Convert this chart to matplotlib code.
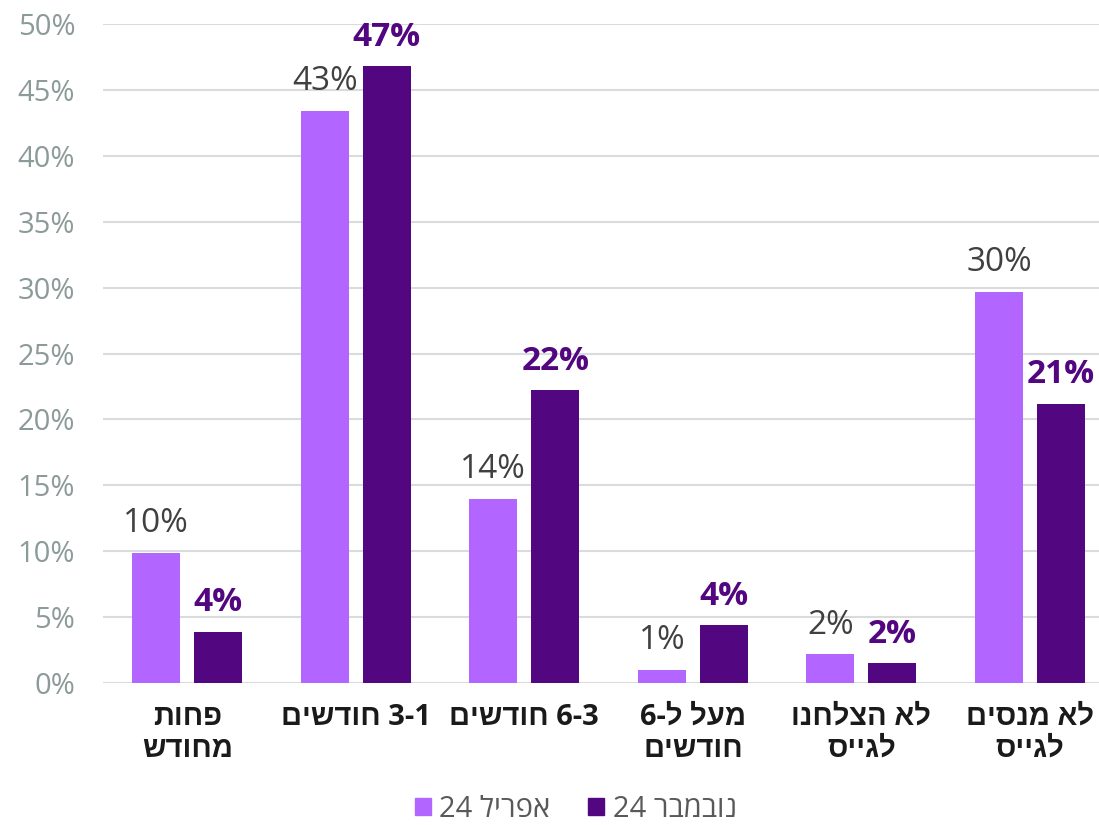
import re
import numpy as np
import matplotlib
matplotlib.use("Agg")
import matplotlib.pyplot as plt
from matplotlib.patches import Patch

plt.rcParams['font.family'] = ['Open Sans', 'Liberation Sans', 'DejaVu Sans']


def rtl(s):
    # matplotlib has no bidi: reverse the text, keep digit runs in order
    r = s[::-1]
    return re.sub(r'\d+', lambda m: m.group(0)[::-1], r)


# Data -------------------------------------------------------------------
categories = [
    "פחות\nמחודש",
    "1-3 חודשים",
    "3-6 חודשים",
    "מעל ל-6\nחודשים",
    "לא הצלחנו\nלגייס",
    "לא מנסים\nלגייס",
]
series_names = ["אפריל 24", "נובמבר 24"]
april = [0.099, 0.434, 0.14, 0.010, 0.022, 0.297]
november = [0.039, 0.468, 0.222, 0.044, 0.015, 0.212]

c_light = "#B366FF"
c_dark = "#52067F"

# Plot -------------------------------------------------------------------
fig = plt.figure(figsize=(10.99, 8.25), dpi=100)
ax = fig.add_axes([0.0937, 0.172, 0.9063, 0.799])

x = np.arange(len(categories))
w = 0.285
off = 0.184
b1 = ax.bar(x - off, april, w, color=c_light, zorder=3)
b2 = ax.bar(x + off, november, w, color=c_dark, zorder=3)

for rect, v in zip(b1, april):
    ax.annotate(f"{v*100:.0f}%", (rect.get_x() + rect.get_width() / 2, v),
                xytext=(0, 9), textcoords="offset points", ha="center", va="bottom",
                fontsize=24, color="#404040")
for rect, v in zip(b2, november):
    ax.annotate(f"{v*100:.0f}%", (rect.get_x() + rect.get_width() / 2, v),
                xytext=(0, 9), textcoords="offset points", ha="center", va="bottom",
                fontsize=24, color=c_dark, fontweight="bold")

ax.set_ylim(0, 0.5)
ax.set_xlim(-0.5, 5.41)
yt = np.arange(0, 0.51, 0.05)
ax.set_yticks(yt)
ax.set_yticklabels([f"{int(round(t*100))}%" for t in yt], fontsize=21, color="#8C9A99")
ax.yaxis.grid(True, color="#D9DCDC", linewidth=1.5, zorder=0)
ax.tick_params(axis="both", length=0)
ax.tick_params(axis="y", pad=20)

ax.set_xticks(x)
ax.set_xticklabels(["\n".join(rtl(p) for p in c.split("\n")) for c in categories],
                   fontsize=21, fontweight="bold", color="#1A1A1A", linespacing=1.15)
ax.tick_params(axis="x", pad=14)

for s in ax.spines.values():
    s.set_visible(False)

handles = [Patch(color=c_light), Patch(color=c_dark)]
fig.legend(handles, [rtl(n) for n in series_names], loc="center",
           bbox_to_anchor=(0.524, 0.019), ncol=2, frameon=False, fontsize=21,
           labelcolor="#595959", handlelength=0.55, handleheight=0.55,
           handletextpad=0.3, columnspacing=1.3)

fig.savefig("out.png", dpi=100)
